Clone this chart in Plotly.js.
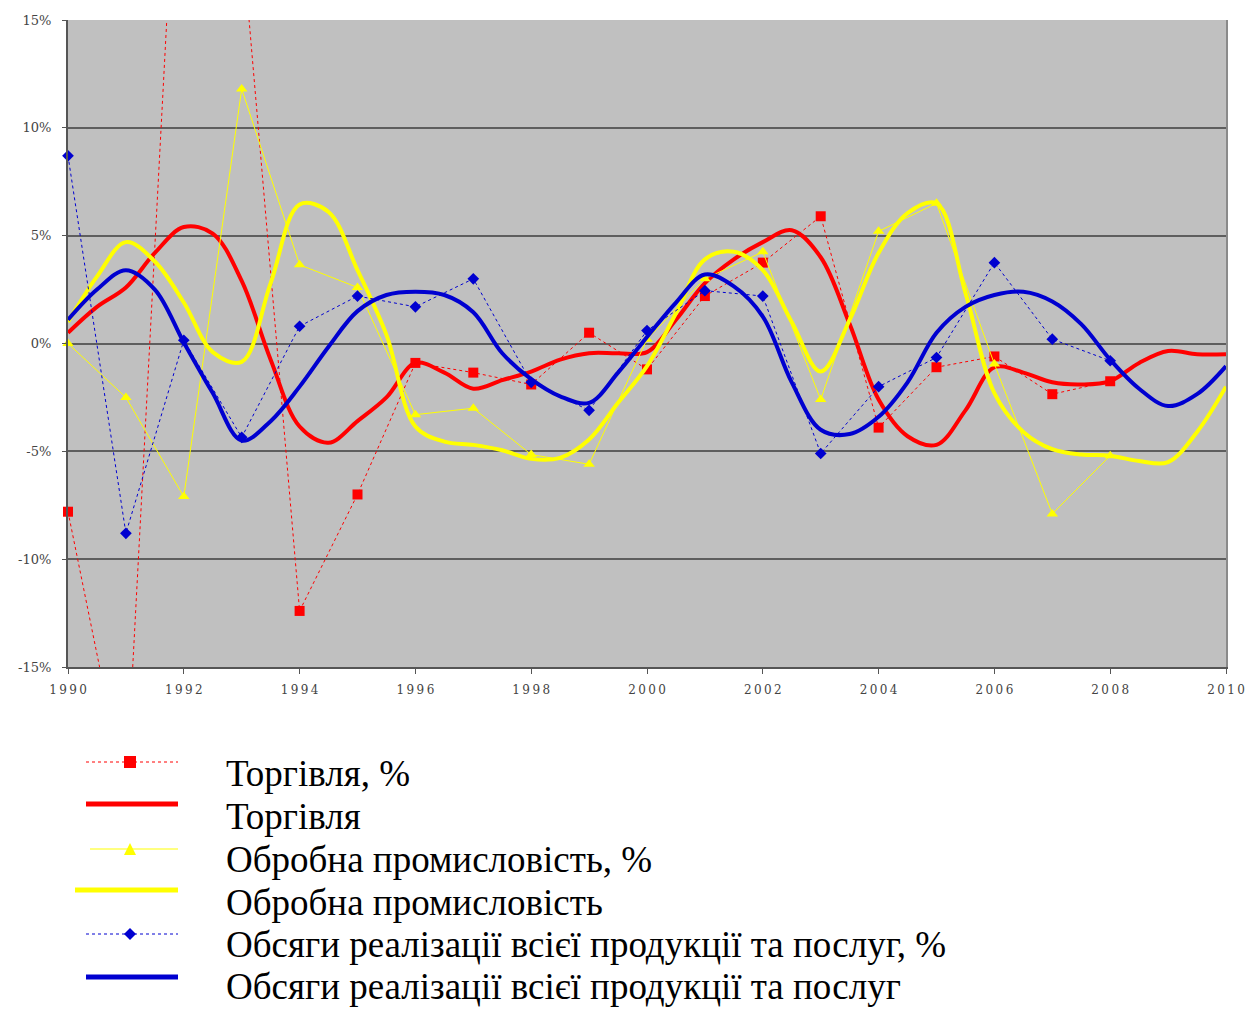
<!DOCTYPE html>
<html>
<head>
<meta charset="utf-8">
<script src="https://cdn.plot.ly/plotly-3.0.1.min.js"></script>
<style>
html,body{margin:0;padding:0;background:#fff;}
#chart{width:1245px;height:1009px;}
</style>
</head>
<body>
<div id="chart"></div>
<script>
// Years of the annual-change series
var years = [1990,1991,1992,1993,1994,1995,1996,1997,1998,1999,2000,2001,2002,2003,2004,2005,2006,2007,2008];
// Annual change, % (dotted series)
var tradePct    = [-7.8,-21.0,30.0,19.0,-12.4,-7.0,-0.9,-1.35,-1.9,0.5,-1.2,2.2,3.75,5.9,-3.9,-1.1,-0.6,-2.35,-1.75];
var industryPct = [0.0,-2.5,-7.1,11.8,3.65,2.6,-3.3,-3.0,-5.15,-5.6,0.2,3.0,4.25,-2.6,5.2,6.5,-0.95,-7.9,-5.2];
var salesPct    = [8.7,-8.8,0.15,-4.35,0.8,2.2,1.7,3.0,-1.8,-3.1,0.6,2.45,2.2,-5.1,-2.0,-0.65,3.75,0.2,-0.8];

// Half-year positions of the smoothed (cyclical) curves
var trendYears = [1990,1990.5,1991,1991.5,1992,1992.5,1993,1993.5,1994,1994.5,1995,1995.5,1996,1996.5,1997,1997.5,1998,1998.5,1999,1999.5,2000,2000.5,2001,2001.5,2002,2002.5,2003,2003.5,2004,2004.5,2005,2005.5,2006,2006.5,2007,2007.5,2008,2008.5,2009,2009.5,2010];
var tradeTrend    = [0.5,1.7,2.6,4.2,5.4,5.1,2.9,-0.75,-3.85,-4.6,-3.6,-2.5,-0.9,-1.35,-2.1,-1.7,-1.3,-0.75,-0.45,-0.45,-0.4,1.1,2.8,3.9,4.7,5.25,4.0,0.9,-2.6,-4.3,-4.7,-3.1,-1.1,-1.35,-1.8,-1.9,-1.75,-0.9,-0.35,-0.5,-0.5];
var industryTrend = [1.0,3.1,4.7,3.8,1.9,-0.4,-0.85,2.8,6.45,6.1,3.4,0.4,-3.85,-4.55,-4.7,-4.95,-5.35,-5.3,-4.45,-2.75,-1.05,1.4,3.9,4.25,3.4,1.0,-1.3,1.1,4.2,6.05,6.5,2.35,-2.3,-4.1,-4.9,-5.15,-5.2,-5.45,-5.5,-4.1,-2.0];
var salesTrend    = [1.1,2.5,3.4,2.5,0.05,-2.3,-4.5,-3.6,-2.0,-0.15,1.5,2.25,2.4,2.25,1.45,-0.45,-1.65,-2.45,-2.75,-1.35,0.3,1.9,3.2,2.65,1.25,-1.8,-4.0,-4.2,-3.4,-1.8,0.5,1.7,2.25,2.4,1.95,0.9,-0.75,-2.1,-2.9,-2.35,-1.05];

var names = ["Торгівля, %","Торгівля","Обробна промисловість, %","Обробна промисловість","Обсяги реалізації всієї продукції та послуг, %","Обсяги реалізації всієї продукції та послуг"];
var yTicks = [-15,-10,-5,0,5,10,15];
var yTickText = ["-15%","-10%","-5%","0%","5%","10%","15%"];
var xTicks = [1990,1992,1994,1996,1998,2000,2002,2004,2006,2008,2010];
var xTickText = ["1990","1992","1994","1996","1998","2000","2002","2004","2006","2008","2010"];

var RED = "#FF0000", YEL = "#FFFF00", BLUE = "#0000D0";
var YMIN = -15, YMAX = 15;
var THIN = "\u2009";
function spaced(s){ return s.split("").join(THIN); }
function inRange(arr){ return arr.map(function(v){ return (v >= YMIN && v <= YMAX) ? v : null; }); }

function pctTraces(x, y, name, lineStyle, markerStyle){
  return [
    {x: x, y: y, name: name, mode: "lines", line: lineStyle, hoverinfo: "skip"},
    {x: x, y: inRange(y), name: name, mode: "markers", marker: markerStyle, cliponaxis: false}
  ];
}

var traces = [].concat(
  pctTraces(years, tradePct, names[0], {color: RED, width: 1, dash: "dot"}, {symbol: "square", size: 10, color: RED}),
  [{x: trendYears, y: tradeTrend, name: names[1], mode: "lines",
    line: {color: RED, width: 4, shape: "spline", smoothing: 1}}],
  pctTraces(years, industryPct, names[2], {color: YEL, width: 1}, {symbol: "triangle-up", size: 10, color: YEL}),
  [{x: trendYears, y: industryTrend, name: names[3], mode: "lines",
    line: {color: YEL, width: 4, shape: "spline", smoothing: 1}}],
  pctTraces(years, salesPct, names[4], {color: BLUE, width: 1, dash: "dot"}, {symbol: "diamond", size: 9, color: BLUE}),
  [{x: trendYears, y: salesTrend, name: names[5], mode: "lines",
    line: {color: BLUE, width: 4, shape: "spline", smoothing: 1}}],
  // invisible helper trace that carries the grid axis
  [{x: [1990], y: [0], yaxis: "y2", mode: "markers", marker: {opacity: 0}, showlegend: false, hoverinfo: "skip"}]
);

// ---- manual legend (keys + real text) below the plot ----
var PL = 68, PR = 1226, PT = 20, PB = 667;
function fx(p){ return (p - PL) / (PR - PL); }
function fy(p){ return (PB - p) / (PB - PT); }
var keyRows  = [762, 804, 849, 890, 934, 977];
var textRows = [773, 816, 859, 902, 944, 986];
var keyStyles = [
  {color: RED,  width: 1, dash: "dot",   x0: 86, marker: "square"},
  {color: RED,  width: 5, dash: "solid", x0: 86, marker: null},
  {color: YEL,  width: 1, dash: "solid", x0: 90, marker: "triangle"},
  {color: YEL,  width: 5, dash: "solid", x0: 75, marker: null},
  {color: BLUE, width: 1, dash: "dot",   x0: 86, marker: "diamond"},
  {color: BLUE, width: 5, dash: "solid", x0: 86, marker: null}
];
var shapes = [], annotations = [];
keyStyles.forEach(function(k, i){
  var yk = keyRows[i];
  shapes.push({type: "line", xref: "paper", yref: "paper",
    x0: fx(k.x0), x1: fx(178), y0: fy(yk), y1: fy(yk),
    line: {color: k.color, width: k.width, dash: k.dash}});
  var cx = 130, r = 6;
  if (k.marker === "square") {
    shapes.push({type: "rect", xref: "paper", yref: "paper",
      x0: fx(cx - r), x1: fx(cx + r), y0: fy(yk - r), y1: fy(yk + r),
      fillcolor: k.color, line: {width: 0}});
  } else if (k.marker === "triangle") {
    shapes.push({type: "path", xref: "paper", yref: "paper",
      path: "M" + fx(cx) + "," + fy(yk - r) + " L" + fx(cx + r) + "," + fy(yk + r) + " L" + fx(cx - r) + "," + fy(yk + r) + " Z",
      fillcolor: k.color, line: {width: 0}});
  } else if (k.marker === "diamond") {
    shapes.push({type: "path", xref: "paper", yref: "paper",
      path: "M" + fx(cx) + "," + fy(yk - r) + " L" + fx(cx + r) + "," + fy(yk) + " L" + fx(cx) + "," + fy(yk + r) + " L" + fx(cx - r) + "," + fy(yk) + " Z",
      fillcolor: k.color, line: {width: 0}});
  }
  annotations.push({xref: "paper", yref: "paper", x: fx(224), y: fy(textRows[i]),
    xanchor: "left", yanchor: "middle", showarrow: false, text: names[i],
    font: {family: "Liberation Serif, Times New Roman, serif", size: 37, color: "#000"}});
});

var layout = {
  width: 1245, height: 1009,
  margin: {l: PL, r: 1245 - PR, t: PT, b: 1009 - PB, autoexpand: false},
  paper_bgcolor: "#FFFFFF",
  plot_bgcolor: "#C0C0C0",
  font: {family: "DejaVu Sans, sans-serif", color: "#444"},
  showlegend: false,
  xaxis: {
    range: [1990, 2010], tickvals: xTicks, ticktext: xTickText.map(spaced),
    showgrid: false, zeroline: false, showline: true, linecolor: "#555", linewidth: 2,
    ticks: "outside", ticklen: 5, tickcolor: "#555", tickwidth: 1, ticklabelstandoff: 6,
    ticklabeloverflow: "allow",
    tickfont: {size: 12, color: "#444", family: "DejaVu Serif, serif"}
  },
  yaxis: {
    range: [YMIN, YMAX], tickvals: yTicks, ticktext: yTickText,
    showgrid: false, zeroline: false, showline: true, linecolor: "#555", linewidth: 2,
    ticks: "outside", ticklen: 4, tickcolor: "#555", ticklabelstandoff: 8,
    tickfont: {size: 13, color: "#444", family: "DejaVu Serif, serif"}
  },
  yaxis2: {
    overlaying: "y", side: "right", range: [YMIN, YMAX],
    tickvals: [-10,-5,0,5,10], showticklabels: false,
    showgrid: true, gridcolor: "#5E5E5E", gridwidth: 2, zeroline: false,
    showline: true, linecolor: "#8A8A8A", linewidth: 2, ticks: ""
  },
  shapes: shapes,
  annotations: annotations
};

Plotly.newPlot("chart", traces, layout, {displayModeBar: false, staticPlot: true});
</script>
</body>
</html>
